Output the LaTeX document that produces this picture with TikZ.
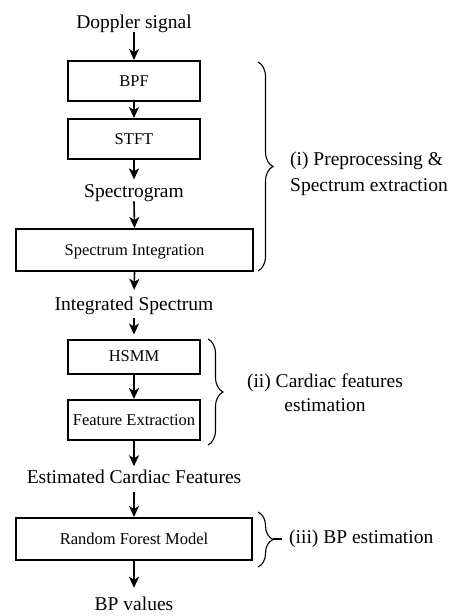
\documentclass[tikz,border=0pt]{standalone}
\usepackage{fontspec}
\setmainfont{Liberation Serif}
\usetikzlibrary{arrows.meta,decorations.pathreplacing}
\begin{document}
\begin{tikzpicture}[x=1pt,y=-1pt,
  box/.style={draw, line width=2pt, minimum width=132pt, minimum height=40pt,
    inner sep=0pt, font=\fontsize{16.5}{19}\selectfont, text height=12pt, text depth=2pt},
  lbl/.style={inner sep=0pt, font=\fontsize{19.5}{24}\selectfont},
  arr/.style={line width=1.6pt, -{Stealth[length=11pt,width=10pt,inset=3pt]}},
  brc/.style={decorate, decoration={brace, amplitude=15pt}, line width=1.1pt}]
\useasboundingbox (0,0) rectangle (449,616);

% main flow
\node[lbl, anchor=base] (dop) at (134,28) {Doppler signal};
\node[box] (bpf) at (134,81) {BPF};
\node[box] (stft) at (134,139) {STFT};
\node[lbl, anchor=base] (spg) at (134,197) {Spectrogram};
\node[box, minimum width=237pt, minimum height=42pt] (si) at (134.5,250) {Spectrum Integration};
\node[lbl, anchor=base] (ints) at (134,310) {Integrated Spectrum};
\node[box, minimum height=34pt] (hsmm) at (134,356.5) {HSMM};
\node[box] (fe) at (134,420) {Feature Extraction};
\node[lbl, anchor=base] (ecf) at (134,483) {Estimated Cardiac Features};
\node[box, minimum width=236pt, minimum height=42pt] (rfm) at (134,539) {Random Forest Model};
\node[lbl, anchor=base] (bpv) at (134,610) {BP values};

\draw[arr] (dop.south) -- (bpf.north);
\draw[arr] (bpf.south) -- (stft.north);
\draw[arr, shorten >=4.5pt] (stft.south) -- (spg.north);
\draw[arr] (spg.south) -- (si.north);
\draw[arr, shorten >=6.5pt] (si.south) -- (ints.north);
\draw[arr, shorten <=4pt, shorten >=4pt] (ints.south) -- (hsmm.north);
\draw[arr] (hsmm.south) -- (fe.north);
\draw[arr, shorten >=3pt] (fe.south) -- (ecf.north);
\draw[arr, shorten <=9pt] (ecf.south) -- (rfm.north);
\draw[arr, shorten >=8.5pt] (rfm.south) -- (bpv.north);

% braces
\coordinate (b1t) at (258,62);
\coordinate (b1b) at (258,271);
\coordinate (b2t) at (208,339);
\coordinate (b2b) at (208,445);
\coordinate (b3t) at (258,512);
\coordinate (b3b) at (258,567);
\draw[brc] (b1t) -- (b1b);
\draw[brc] (b2t) -- (b2b);
\draw[brc] (b3t) -- (b3b);

\node[lbl, anchor=west, align=left, font=\fontsize{19.5}{26.5}\selectfont] (l1) at (290,174) {(i) Preprocessing \&\\Spectrum extraction};
\node[lbl, align=center] (l2) at (325,393) {(ii) Cardiac features\\estimation};
\node[lbl, anchor=west] (l3) at (289,539) {(iii) BP estimation};
\coordinate (b3tip) at (273,539);
\draw[line width=1.1pt, shorten >=7pt] (b3tip) -- (l3.west);
\end{tikzpicture}
\end{document}
